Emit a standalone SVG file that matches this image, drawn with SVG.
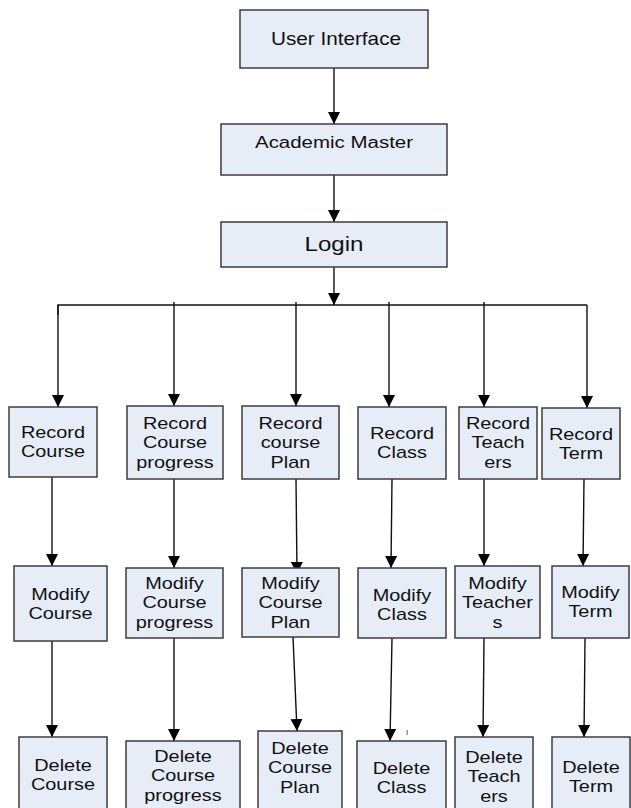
<svg xmlns="http://www.w3.org/2000/svg" width="631" height="808" viewBox="0 0 631 808">
<defs>
<marker id="ah" markerUnits="userSpaceOnUse" markerWidth="13" markerHeight="12" refX="12" refY="6" orient="auto">
<path d="M0,0 L12,6 L0,12 z" fill="#000"/>
</marker>
<style>
.box{fill:#e7edf7;stroke:#3c3c3c;stroke-width:1.5}
.t{font-family:"Liberation Sans",Arial,sans-serif;font-size:17px;fill:#111;text-anchor:middle}
.s{transform:scaleX(1.17);transform-box:fill-box;transform-origin:center}
.c{stroke:#111;stroke-width:1.4;fill:none}
.a{stroke:#111;stroke-width:1.4;fill:none;marker-end:url(#ah)}
</style>
</defs>
<rect width="631" height="808" fill="#fff"/>
<g id="connectors">
<line class="a" x1="334" y1="68" x2="334" y2="124"/>
<line class="a" x1="334" y1="175" x2="334" y2="222"/>
<line class="a" x1="334" y1="267" x2="334" y2="305"/>
<polyline class="c" points="58,315 58,305 587,305"/>
<line class="a" x1="58" y1="305" x2="58" y2="407"/>
<line class="a" x1="174" y1="302" x2="174" y2="406"/>
<line class="a" x1="296" y1="302" x2="296" y2="406"/>
<line class="a" x1="389" y1="302" x2="389" y2="407"/>
<line class="a" x1="484" y1="302" x2="484" y2="407"/>
<line class="a" x1="587" y1="305" x2="587" y2="408"/>
<line class="a" x1="52" y1="477" x2="52" y2="566"/>
<line class="a" x1="174" y1="479" x2="174" y2="568"/>
<line class="a" x1="296" y1="479" x2="297" y2="574"/>
<line class="a" x1="392" y1="479" x2="391" y2="568"/>
<line class="a" x1="484" y1="479" x2="484" y2="566"/>
<line class="a" x1="584" y1="479" x2="583" y2="566"/>
<line class="a" x1="52" y1="641" x2="52" y2="737"/>
<line class="a" x1="174" y1="638" x2="174" y2="741"/>
<line class="a" x1="293" y1="637" x2="297" y2="731"/>
<line class="a" x1="392" y1="638" x2="390" y2="741"/>
<line class="a" x1="484" y1="638" x2="483" y2="737"/>
<line class="a" x1="585" y1="638" x2="584" y2="737"/>
</g>
<g id="user-interface"><rect class="box" x="240" y="10" width="188" height="58"/><text class="t" x="336" y="45" textLength="130" lengthAdjust="spacingAndGlyphs" style="font-size:18.5px">User Interface</text></g>
<g id="academic-master"><rect class="box" x="221" y="124" width="226" height="51"/><text class="t" x="334" y="148" textLength="158" lengthAdjust="spacingAndGlyphs" style="font-size:16px">Academic Master</text></g>
<g id="login"><rect class="box" x="221" y="222" width="226" height="45"/><text class="t" x="334" y="251" textLength="59" lengthAdjust="spacingAndGlyphs" style="font-size:20px">Login</text></g>

<g id="record-course"><rect class="box" x="9" y="407" width="88" height="70"/><text class="t s" x="53" y="438">Record</text><text class="t s" x="53" y="457">Course</text></g>
<g id="record-course-progress"><rect class="box" x="127" y="406" width="96" height="73"/><text class="t s" x="175" y="429">Record</text><text class="t s" x="175" y="448.5">Course</text><text class="t s" x="175" y="468">progress</text></g>
<g id="record-course-plan"><rect class="box" x="242" y="406" width="97" height="73"/><text class="t s" x="290.5" y="429">Record</text><text class="t s" x="290.5" y="448.5">course</text><text class="t s" x="290.5" y="468">Plan</text></g>
<g id="record-class"><rect class="box" x="358" y="407" width="88" height="72"/><text class="t s" x="402" y="439">Record</text><text class="t s" x="402" y="458">Class</text></g>
<g id="record-teachers"><rect class="box" x="459" y="407" width="78" height="72"/><text class="t s" x="498" y="429">Record</text><text class="t s" x="498" y="448.5">Teach</text><text class="t s" x="498" y="468">ers</text></g>
<g id="record-term"><rect class="box" x="542" y="408" width="78" height="71"/><text class="t s" x="581" y="440">Record</text><text class="t s" x="581" y="459">Term</text></g>

<g id="modify-course"><rect class="box" x="14" y="566" width="93" height="75"/><text class="t s" x="60.5" y="600">Modify</text><text class="t s" x="60.5" y="619">Course</text></g>
<g id="modify-course-progress"><rect class="box" x="126" y="568" width="97" height="70"/><text class="t s" x="174.5" y="589">Modify</text><text class="t s" x="174.5" y="608.5">Course</text><text class="t s" x="174.5" y="628">progress</text></g>
<g id="modify-course-plan"><rect class="box" x="242" y="568" width="97" height="69"/><text class="t s" x="290.5" y="589">Modify</text><text class="t s" x="290.5" y="608.5">Course</text><text class="t s" x="290.5" y="628">Plan</text></g>
<g id="modify-class"><rect class="box" x="358" y="568" width="88" height="70"/><text class="t s" x="402" y="601">Modify</text><text class="t s" x="402" y="620">Class</text></g>
<g id="modify-teachers"><rect class="box" x="455" y="566" width="85" height="72"/><text class="t s" x="497.5" y="589">Modify</text><text class="t s" x="497.5" y="608.5">Teacher</text><text class="t s" x="497.5" y="628">s</text></g>
<g id="modify-term"><rect class="box" x="552" y="566" width="77" height="72"/><text class="t s" x="590.5" y="598">Modify</text><text class="t s" x="590.5" y="617">Term</text></g>

<g id="delete-course"><rect class="box" x="19" y="737" width="88" height="80"/><text class="t s" x="63" y="771">Delete</text><text class="t s" x="63" y="790">Course</text></g>
<g id="delete-course-progress"><rect class="box" x="126" y="741" width="114" height="80"/><text class="t s" x="183" y="762">Delete</text><text class="t s" x="183" y="781.5">Course</text><text class="t s" x="183" y="801">progress</text></g>
<g id="delete-course-plan"><rect class="box" x="258" y="731" width="84" height="90"/><text class="t s" x="300" y="754">Delete</text><text class="t s" x="300" y="773.5">Course</text><text class="t s" x="300" y="793">Plan</text></g>
<g id="delete-class"><rect class="box" x="357" y="741" width="89" height="80"/><text class="t s" x="401.5" y="774">Delete</text><text class="t s" x="401.5" y="793">Class</text></g>
<g id="delete-teachers"><rect class="box" x="455" y="737" width="78" height="80"/><text class="t s" x="494" y="763">Delete</text><text class="t s" x="494" y="782.5">Teach</text><text class="t s" x="494" y="802">ers</text></g>
<g id="delete-term"><rect class="box" x="552" y="737" width="78" height="80"/><text class="t s" x="591" y="773">Delete</text><text class="t s" x="591" y="792">Term</text></g>
<text x="407" y="735" style="font-family:'Liberation Sans',Arial,sans-serif;font-size:8px;fill:#333" text-anchor="middle">I</text>
</svg>
